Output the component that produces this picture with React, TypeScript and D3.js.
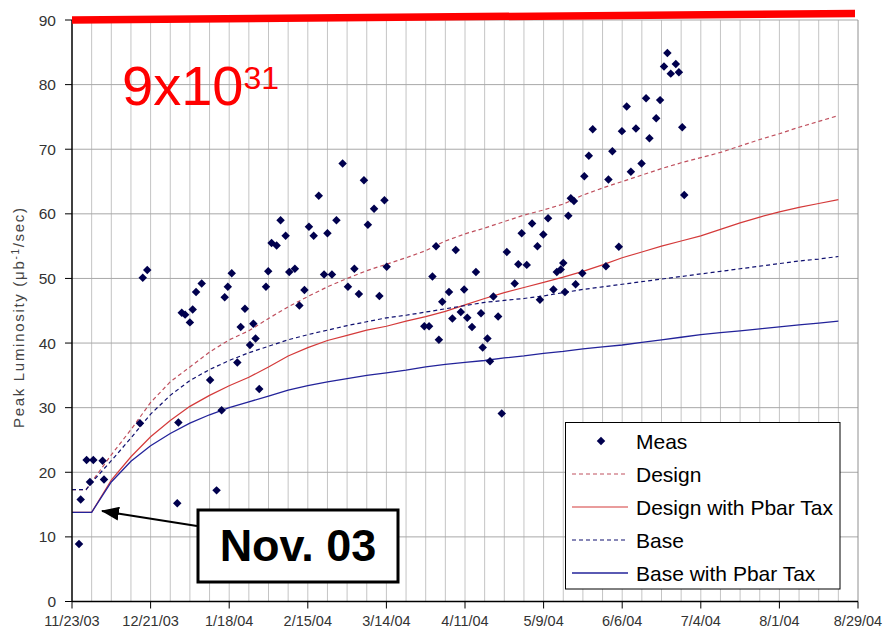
import React from "react";
import * as d3 from "d3";

// Run start: 23 Nov 2003 (UTC). All days below are counted from it.
const START = Date.UTC(2003, 10, 23);
const dayToDate = (d: number) => new Date(START + d * 86400000);

// Measured peak luminosity stores
const measDays = [
  2.5, 3.1, 5.2, 6.4, 7.6, 10.9, 11.4, 24.2, 25.2, 26.8, 37.5, 37.9, 39.1, 40.3, 42.0, 43.0, 44.2, 46.2, 49.2, 51.5,
  53.3, 54.4, 55.5, 56.9, 58.9, 60.1, 61.6, 63.4, 64.6, 65.4, 66.7, 69.1, 69.9, 71.1, 72.9, 74.3, 76.1, 77.4, 79.4, 81.0,
  82.8, 84.4, 86.1, 87.9, 89.8, 91.0, 92.6, 94.2, 96.4, 98.3, 100.6, 102.2, 104.0, 105.4, 107.6, 109.5, 111.3, 112.1, 125.5, 127.2,
  128.4, 129.7, 130.7, 131.9, 134.3, 135.5, 136.7, 138.5, 139.7, 140.8, 142.5, 143.9, 145.7, 146.3, 148.0, 148.9, 150.1, 151.8, 153.1, 154.9,
  157.7, 159.0, 160.2, 162.0, 163.9, 165.8, 166.7, 167.9, 169.6, 171.5, 172.7, 174.1, 175.0, 175.6, 176.8, 177.7, 178.8, 179.4, 181.8, 182.5,
  184.1, 185.5, 190.2, 191.1, 192.5, 194.8, 195.9, 197.6, 199.1, 200.9, 202.9, 204.5, 205.7, 208.1, 209.5, 210.9, 212.1, 213.3, 215.1, 216.2,
  217.4, 218.1,
];
const measValues = [
  8.9, 15.8, 21.9, 18.5, 21.9, 21.8, 18.9, 27.6, 50.1, 51.3, 15.2, 27.7, 44.7, 44.4, 43.2, 45.2, 47.9, 49.2, 34.3, 17.2,
  29.6, 47.1, 48.7, 50.8, 37.0, 42.5, 45.3, 39.7, 43.0, 40.7, 32.9, 48.7, 51.1, 55.5, 55.1, 59.0, 56.6, 51.0, 51.5, 45.8,
  48.2, 58.0, 56.6, 62.8, 50.6, 57.0, 50.6, 59.0, 67.8, 48.7, 51.5, 47.6, 65.2, 58.3, 60.8, 47.3, 62.1, 51.8, 42.6, 42.6,
  50.3, 55.0, 40.5, 46.4, 47.9, 43.8, 54.4, 44.8, 48.3, 43.9, 42.5, 51.0, 44.6, 39.3, 40.7, 37.2, 47.2, 44.1, 29.1, 54.1,
  49.2, 52.2, 57.0, 52.1, 58.5, 55.0, 46.7, 56.8, 59.3, 48.3, 51.0, 51.4, 52.4, 47.9, 59.7, 62.4, 62.0, 49.1, 50.8, 65.8,
  69.0, 73.1, 51.9, 65.3, 69.7, 54.9, 72.8, 76.6, 66.5, 73.2, 67.8, 77.9, 71.7, 74.8, 77.6, 82.8, 84.9, 81.7, 83.2, 81.9,
  73.4, 62.9,
];

// Projection curves, sampled weekly
const modelDays = [
  0, 5, 7, 14, 21, 28, 35, 42, 49, 56, 63, 70, 77, 84, 91, 98, 105, 112, 119, 126, 133,
  140, 147, 154, 161, 168, 175, 182, 189, 196, 203, 210, 217, 224, 231, 238, 245, 252, 259, 266, 273,
];
const designValues = [
  17.3, 17.3, 18.5, 22.7, 26.6, 30.8, 34.0, 36.3, 38.6, 40.5, 41.9, 43.8, 45.6, 47.2, 48.7, 50.0, 51.2, 52.2, 53.2, 54.3,
  55.8, 56.9, 57.8, 58.8, 59.8, 60.6, 61.5, 62.9, 64.0, 65.0, 66.0, 67.0, 67.9, 68.7, 69.5, 70.5, 71.5, 72.4, 73.4, 74.3,
  75.2,
];
const designTaxValues = [
  13.8, 13.8, 13.8, 18.8, 22.4, 25.5, 28.0, 30.2, 31.9, 33.4, 34.7, 36.3, 38.0, 39.3, 40.4, 41.2, 42.0, 42.6, 43.4, 44.1,
  44.9, 45.9, 46.9, 47.8, 48.6, 49.4, 50.2, 51.1, 52.1, 53.2, 54.1, 55.0, 55.8, 56.6, 57.6, 58.6, 59.5, 60.3, 61.0, 61.6,
  62.2,
];
const baseValues = [
  17.3, 17.3, 18.4, 21.8, 25.3, 29.0, 31.9, 34.2, 35.9, 37.3, 38.5, 39.5, 40.5, 41.3, 42.0, 42.7, 43.3, 43.9, 44.3, 44.8,
  45.3, 45.8, 46.3, 46.6, 46.9, 47.3, 47.8, 48.3, 48.7, 49.1, 49.5, 49.9, 50.3, 50.7, 51.1, 51.5, 51.9, 52.3, 52.7, 53.0,
  53.4,
];
const baseTaxValues = [
  13.8, 13.8, 13.8, 18.5, 21.7, 24.1, 26.0, 27.6, 28.9, 30.0, 30.9, 31.8, 32.7, 33.4, 34.0, 34.5, 35.0, 35.4, 35.8, 36.3,
  36.7, 37.0, 37.3, 37.7, 38.0, 38.4, 38.7, 39.1, 39.4, 39.7, 40.1, 40.5, 40.9, 41.3, 41.6, 41.9, 42.2, 42.5, 42.8, 43.1,
  43.4,
];

const yTicks = [0, 10, 20, 30, 40, 50, 60, 70, 80, 90];
const xTickDays = [0, 28, 56, 84, 112, 140, 168, 196, 224, 252, 280];
const legendLabels = ["Meas", "Design", "Design with Pbar Tax", "Base", "Base with Pbar Tax"];
const goalValue = 90;

const W = 884;
const H = 628;
const left = 72;
const right = 858;
const top = 20;
const bottom = 601.5;

const x = d3.scaleUtc().domain([dayToDate(0), dayToDate(280)]).range([left, right]);
const y = d3.scaleLinear().domain([0, 90]).range([bottom, top]);
const fmt = d3.utcFormat("%-m/%-d/%y");

const MARK = "#00004e";
const curves = [
  { values: designValues, color: "#c0505e", dash: "4,3", width: 1.2 },
  { values: designTaxValues, color: "#d43a3a", dash: undefined, width: 1.2 },
  { values: baseValues, color: "#101070", dash: "4,3", width: 1.2 },
  { values: baseTaxValues, color: "#23239a", dash: undefined, width: 1.3 },
];

const diamond = d3.symbol(d3.symbolSquare, 36)()!;

export default function App() {
  const line = (vals: number[]) =>
    d3
      .line<number>()
      .x((_, i) => x(dayToDate(modelDays[i])))
      .y((v) => y(v))(vals)!;

  const weekDays = d3.range(7, 280, 7);
  const font = "Liberation Sans, Arial, sans-serif";

  return (
    <svg
      width={W}
      height={H}
      style={{ position: "absolute", left: 0, top: 0, background: "#fff" }}
      fontFamily={font}
    >
      <rect x={0} y={0} width={W} height={H} fill="#fff" />

      {/* weekly vertical grid */}
      {weekDays.map((d) => (
        <line key={"v" + d} x1={x(dayToDate(d))} x2={x(dayToDate(d))} y1={top} y2={bottom} stroke="#c4c4c4" strokeWidth={1} />
      ))}
      {/* horizontal grid */}
      {yTicks.slice(1).map((t) => (
        <line key={"h" + t} x1={left} x2={right} y1={y(t)} y2={y(t)} stroke="#a8a8a8" strokeWidth={1} />
      ))}
      {/* plot frame */}
      <line x1={right} x2={right} y1={top} y2={bottom} stroke="#909090" strokeWidth={1} />

      {/* projections */}
      {curves.map((c, i) => (
        <path key={"c" + i} d={line(c.values)} fill="none" stroke={c.color} strokeWidth={c.width} strokeDasharray={c.dash} />
      ))}

      {/* measurements */}
      {measDays.map((d, i) => (
        <path
          key={"m" + i}
          d={diamond}
          transform={`translate(${x(dayToDate(d))},${y(measValues[i])}) rotate(45)`}
          fill={MARK}
        />
      ))}

      {/* axes */}
      <line x1={left} x2={left} y1={top} y2={bottom} stroke="#000" strokeWidth={1.5} />
      <line x1={left} x2={right} y1={bottom} y2={bottom} stroke="#000" strokeWidth={1.5} />
      {yTicks.map((t) => (
        <g key={"yt" + t}>
          <line x1={left - 7} x2={left} y1={y(t)} y2={y(t)} stroke="#000" strokeWidth={1} />
          <text x={56} y={y(t)} dy="0.36em" textAnchor="end" fontSize={15.5} fill="#333">
            {t}
          </text>
        </g>
      ))}
      {xTickDays.map((d) => (
        <g key={"xt" + d}>
          <line x1={x(dayToDate(d))} x2={x(dayToDate(d))} y1={bottom} y2={bottom + 7} stroke="#000" strokeWidth={1} />
          <text x={x(dayToDate(d))} y={626} textAnchor="middle" fontSize={14.5} fill="#333">
            {fmt(dayToDate(d))}
          </text>
        </g>
      ))}
      <text
        transform="translate(24,318) rotate(-90)"
        textAnchor="middle"
        fontSize={15}
        fill="#444"
        textLength={220}
        lengthAdjust="spacing"
      >
        Peak Luminosity (μb<tspan dy={-5} fontSize={10}>-1</tspan>
        <tspan dy={5}>/sec)</tspan>
      </text>

      {/* goal line */}
      <line x1={left} x2={855} y1={y(goalValue)} y2={y(goalValue) - 6.5} stroke="#ff0000" strokeWidth={7.5} />
      <text x={122} y={105} fontSize={56} fill="#ff0000">
        9x10<tspan dy={-16} fontSize={32}>31</tspan>
      </text>

      {/* legend */}
      <rect x={565.5} y={422.5} width={274.5} height={166.5} fill="#fff" stroke="#000" strokeWidth={1} />
      {legendLabels.map((lab, i) => {
        const ly = 441 + i * 33;
        const c = i > 0 ? curves[i - 1] : null;
        return (
          <g key={"lg" + i}>
            {c ? (
              <line x1={572} x2={628} y1={ly} y2={ly} stroke={c.color} strokeWidth={c.width} strokeDasharray={c.dash} />
            ) : (
              <path d={diamond} transform={`translate(601,${ly}) rotate(45)`} fill={MARK} />
            )}
            <text x={636} y={ly} dy="0.36em" fontSize={21} fill="#000">
              {lab}
            </text>
          </g>
        );
      })}

      {/* run start annotation */}
      <defs>
        <marker id="arrowHead" viewBox="0 0 18 14" refX={17} refY={7} markerWidth={18} markerHeight={14} markerUnits="userSpaceOnUse" orient="auto">
          <path d="M0,0 L18,7 L0,14 Z" fill="#000" />
        </marker>
      </defs>
      <line x1={197} y1={526} x2={102} y2={511} stroke="#000" strokeWidth={2} markerEnd="url(#arrowHead)" />
      <rect x={198} y={510} width={200} height={72} fill="#fff" stroke="#000" strokeWidth={3} />
      <text x={298} y={561} textAnchor="middle" fontSize={45} fontWeight="bold" fill="#000">
        Nov. 03
      </text>
    </svg>
  );
}
